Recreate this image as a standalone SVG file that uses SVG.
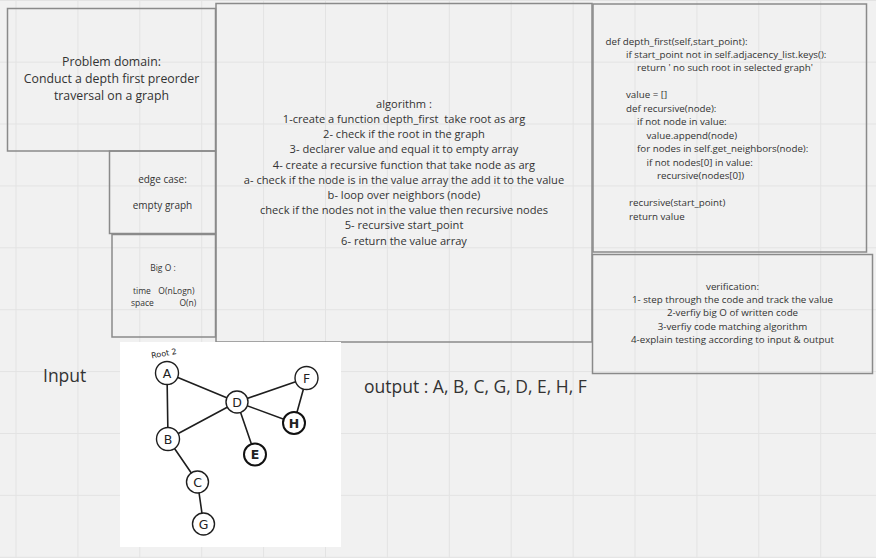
<svg xmlns="http://www.w3.org/2000/svg" width="876" height="558" viewBox="0 0 876 558">
<defs>
<style>
.bg{fill:#f1f1f1}
.grid{stroke:#e3e3e3;stroke-width:1;fill:none}
.box{fill:none;stroke:#8a8a8a;stroke-width:1.5}
.t{font-family:"Open Sans","Noto Sans","Liberation Sans",sans-serif;fill:#333}
.c{text-anchor:middle}
.code{font-family:"Open Sans","Noto Sans","Liberation Sans",sans-serif;fill:#333;font-size:9.75px}
.edge{stroke:#1e1e1e;stroke-width:1.6;stroke-linecap:round}
.nd{fill:#fff;stroke:#1e1e1e;stroke-width:1.4}
.ndb{fill:#fff;stroke:#111;stroke-width:2}
.nl{font-family:"DejaVu Sans","Liberation Sans",sans-serif;font-size:12.5px;fill:#222;text-anchor:middle}
</style>
</defs>
<rect class="bg" x="0" y="0" width="876" height="558"/>
<path class="grid" d="M16 0V558M77.9 0V558M139.8 0V558M201.7 0V558M263.6 0V558M325.5 0V558M387.4 0V558M449.3 0V558M511.2 0V558M573.1 0V558M635 0V558M696.9 0V558M758.8 0V558M820.7 0V558M0 0.5H876M0 62.1H876M0 124H876M0 185.9H876M0 247.8H876M0 309.7H876M0 371.6H876M0 433.5H876M0 495.4H876M0 557.3H876"/>

<g id="problem-domain">
<rect class="box" x="7.5" y="8.5" width="208" height="142.5"/>
<text class="t c" font-size="12.3"><tspan x="111.5" y="66">Problem domain:</tspan><tspan x="111.5" y="83.2">Conduct a depth first preorder</tspan><tspan x="111.5" y="100.4">traversal on a graph</tspan></text>
</g>

<g id="edge-case">
<rect class="box" x="109.5" y="151" width="106" height="82.5"/>
<text class="t c" font-size="10"><tspan x="162.5" y="182.5">edge case:</tspan><tspan x="162.5" y="208.5">empty graph</tspan></text>
</g>

<g id="big-o">
<rect class="box" x="112" y="234.5" width="103.5" height="102.5"/>
<text class="t c" font-size="8.5" x="163" y="270.5">Big O :</text>
<text class="t" font-size="8.5"><tspan x="133" y="293.5">time</tspan><tspan x="158.3" y="293.5">O(nLogn)</tspan></text>
<text class="t" font-size="8.5"><tspan x="131" y="305.5">space</tspan><tspan x="179.5" y="305.5">O(n)</tspan></text>
</g>

<g id="algorithm">
<rect class="box" x="216" y="3.5" width="376" height="338.5"/>
<text class="t c" font-size="11.1" xml:space="preserve"><tspan x="404" y="107.7">algorithm :</tspan><tspan x="404" y="122.9">1-create a function depth_first  take root as arg</tspan><tspan x="404" y="138.1">2- check if the root in the graph</tspan><tspan x="404" y="153.3">3- declarer value and equal it to empty array</tspan><tspan x="404" y="168.5">4- create a recursive function that take node as arg</tspan><tspan x="404" y="183.7">a- check if the node is in the value array the add it to the value</tspan><tspan x="404" y="198.9">b- loop over neighbors (node)</tspan><tspan x="404" y="214.1">check if the nodes not in the value then recursive nodes</tspan><tspan x="404" y="229.3">5- recursive start_point</tspan><tspan x="404" y="244.5">6- return the value array</tspan></text>
</g>

<g id="code">
<rect class="box" x="593" y="4" width="273.5" height="248"/>
<text class="code"><tspan x="605.5" y="45">def depth_first(self,start_point):</tspan><tspan x="626" y="57.7">if start_point not in self.adjacency_list.keys():</tspan><tspan x="637" y="71">return ' no such root in selected graph'</tspan><tspan x="626" y="98.3">value = []</tspan><tspan x="626" y="111.6">def recursive(node):</tspan><tspan x="637" y="125">if not node in value:</tspan><tspan x="646.5" y="139.3">value.append(node)</tspan><tspan x="637" y="151.6">for nodes in self.get_neighbors(node):</tspan><tspan x="646.5" y="166">if not nodes[0] in value:</tspan><tspan x="657" y="179">recursive(nodes[0])</tspan><tspan x="629" y="206">recursive(start_point)</tspan><tspan x="629" y="220">return value</tspan></text>
</g>

<g id="verification">
<rect class="box" x="592.5" y="254.5" width="280" height="119"/>
<text class="t c" font-size="9.75"><tspan x="732.5" y="289.8">verification:</tspan><tspan x="732.5" y="303.1">1- step through the code and track the value</tspan><tspan x="732.5" y="316.4">2-verfiy big O of written code</tspan><tspan x="732.5" y="329.7">3-verfiy code matching algorithm</tspan><tspan x="732.5" y="343">4-explain testing according to input &amp; output</tspan></text>
</g>

<g id="input-label">
<text class="t" font-size="17.5" x="43" y="381.5">Input</text>
</g>

<g id="output-label">
<text class="t" font-size="17.5" x="364" y="393">output : A, B, C, G, D, E, H, F</text>
</g>

<g id="graph-image">
<rect x="120" y="342" width="221" height="205" fill="#fff"/>
<g id="connectors">
<line class="edge" x1="167" y1="373" x2="237" y2="402"/>
<line class="edge" x1="167" y1="373" x2="168" y2="439"/>
<line class="edge" x1="168" y1="439" x2="237" y2="402"/>
<line class="edge" x1="237" y1="402" x2="306.5" y2="378"/>
<line class="edge" x1="237" y1="402" x2="294" y2="423"/>
<line class="edge" x1="306.5" y1="378" x2="294" y2="423"/>
<line class="edge" x1="237" y1="402" x2="255" y2="454.5"/>
<line class="edge" x1="168" y1="439" x2="197.5" y2="482"/>
<line class="edge" x1="197.5" y1="482" x2="203.5" y2="524"/>
</g>
<text font-family="'DejaVu Sans',sans-serif" font-size="8" fill="#222" x="151" y="356" transform="rotate(-10 165 353)">Root 2</text>
<g id="node-A"><circle class="nd" cx="167" cy="373" r="11.5"/><text class="nl" x="167" y="377.5">A</text></g>
<g id="node-D"><circle class="nd" cx="237" cy="402" r="11"/><text class="nl" x="237" y="406.5">D</text></g>
<g id="node-F"><circle class="nd" cx="306.5" cy="378" r="11.5"/><text class="nl" x="306.5" y="382.5">F</text></g>
<g id="node-H"><circle class="ndb" cx="294" cy="423" r="11"/><text class="nl" font-weight="bold" x="294" y="427.5">H</text></g>
<g id="node-B"><circle class="nd" cx="168" cy="439" r="11.5"/><text class="nl" x="168" y="443.5">B</text></g>
<g id="node-E"><circle class="ndb" cx="255" cy="454.5" r="11"/><text class="nl" font-weight="bold" x="255" y="459">E</text></g>
<g id="node-C"><circle class="nd" cx="197.5" cy="482" r="11"/><text class="nl" x="197.5" y="486.5">C</text></g>
<g id="node-G"><circle class="nd" cx="203.5" cy="524" r="11"/><text class="nl" x="203.5" y="528.5">G</text></g>
</g>
</svg>
